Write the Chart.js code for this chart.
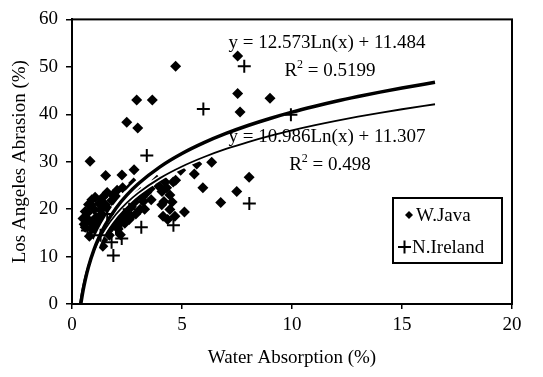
<!DOCTYPE html>
<html>
<head>
<meta charset="utf-8">
<script src="https://cdn.jsdelivr.net/npm/chart.js@4"></script>
<style>
  body { margin: 0; background: #fff; }
  #wrap { width: 543px; height: 377px; }
</style>
</head>
<body>
<div id="wrap"><canvas id="absorptionChart" width="543" height="377"></canvas></div>
<script>
// --- Data ---
const seriesNames = ['W.Java', 'N.Ireland'];

// W.Java samples: water absorption (%) and LA abrasion (%)
const javaAbsorption = [
  0.82, 1.53, 2.27, 2.82, 4.71, 2.94, 3.65, 2.49, 2.99, 7.53, 7.53, 7.64, 9.0,
  8.05, 7.49, 6.76, 5.95, 5.56, 5.67, 6.35, 5.11, 4.71, 4.94, 4.14, 4.08, 4.6,
  3.24, 3.55, 1.24, 2.0, 2.6, 0.79, 0.64,
  3.86, 4.23, 4.09, 4.45, 4.18, 4.45, 4.68,
  1.6, 2.3, 2.8, 3.0, 0.9, 1.4, 1.8, 2.5, 3.0,
  0.6, 1.0, 1.3, 1.6, 2.0, 2.3, 2.7, 3.1,
  0.5, 0.8, 1.1, 1.4, 1.7, 2.0, 2.3, 2.6,
  0.6, 0.9, 1.2, 1.5, 1.8, 2.1, 1.1, 1.4, 1.7, 1.4,
  0.55, 0.7, 0.85, 1.0, 1.15, 1.25, 1.35, 1.5, 1.55, 1.65, 1.75, 1.9, 1.95, 2.1,
  2.15, 2.2, 2.4, 2.45, 2.55, 2.7, 2.85, 2.9, 1.05, 0.75, 1.85, 2.05, 3.2, 3.3,
  3.4, 3.6, 3.95, 4.3, 4.55, 4.35
];
const javaAbrasion = [
  30.1, 27.1, 27.2, 28.3, 50.1, 43.0, 43.0, 38.3, 37.1, 52.3, 44.4, 40.5, 43.4,
  26.7, 23.7, 21.4, 24.5, 27.4, 29.5, 29.9, 19.4, 26.1, 28.2, 18.5, 20.9, 25.7,
  21.6, 24.3, 21.2, 22.6, 24.3, 14.3, 18.1,
  26.1, 25.7, 23.7, 23.0, 21.6, 19.9, 18.5,
  23.5, 24.5, 25.5, 24.0, 22.0, 22.5, 21.8, 22.0, 22.8,
  19.5, 20.0, 19.8, 20.3, 20.0, 19.5, 20.5, 20.0,
  18.0, 17.5, 18.3, 17.8, 18.5, 17.5, 18.2, 17.8,
  16.2, 15.8, 16.5, 15.5, 16.3, 15.8, 14.2, 13.5, 14.5, 12.2,
  16.8, 19.2, 20.8, 16.8, 15.2, 17.2, 19.0, 21.0, 17.0, 15.5, 19.5, 18.0, 21.5, 19.0,
  16.8, 14.6, 17.0, 20.8, 19.0, 18.5, 21.5, 19.0, 22.5, 21.0, 23.0, 24.0, 22.5, 20.0,
  23.5, 22.0, 24.8, 24.5, 21.5, 17.8
];

// N.Ireland samples
const irelandAbsorption = [
  7.83, 5.97, 3.4, 9.95, 8.06, 4.61, 1.88, 3.15, 2.26,
  0.9, 1.3, 1.6, 2.0, 1.2, 2.6, 0.7, 1.8
];
const irelandAbrasion = [
  50.1, 41.1, 31.3, 39.9, 21.2, 16.6, 10.2, 16.2, 13.8,
  17.0, 14.5, 19.0, 16.0, 21.0, 20.0, 15.5, 13.0
];

// Logarithmic trend lines as they run across the plot
const trendAbsorption = [0.36, 0.4, 0.45, 0.5, 0.6, 0.75, 1, 1.25, 1.5, 2, 2.5, 3, 4, 5, 6, 7, 8, 9, 10, 11, 12, 13, 14, 15, 16.5];
const javaTrend = [null, 0, 1.44, 2.77, 5.06, 7.87, 11.48, 14.29, 16.58, 20.2, 23.0, 25.3, 28.91, 31.72, 34.01, 35.95, 37.63, 39.11, 40.44, 41.63, 42.73, 43.73, 44.67, 45.53, 46.73];
const irelandTrend = [0, 1.24, 2.53, 3.69, 5.7, 8.15, 11.31, 13.76, 15.76, 18.92, 21.37, 23.38, 26.54, 28.99, 30.99, 32.69, 34.15, 35.45, 36.6, 37.65, 38.61, 39.49, 40.3, 41.06, 42.11];

const trendLabels = [
  ['y = 12.573Ln(x) + 11.484', '0.5199'],
  ['y = 10.986Ln(x) + 11.307', '0.498']
];

const xTicks = [0, 5, 10, 15, 20];
const yTicks = [0, 10, 20, 30, 40, 50, 60];

const pairs = (xs, ys) => xs.map((x, i) => ({ x: x, y: ys[i] }));
const serif = 'Liberation Serif, Times New Roman, serif';

// --- Frame, trend equations and legend box ---
const decorations = {
  id: 'decorations',
  afterDraw(chart) {
    const { ctx, chartArea: a } = chart;
    ctx.save();
    ctx.strokeStyle = '#000';
    ctx.lineWidth = 2;
    ctx.strokeRect(a.left, a.top, a.right - a.left, a.bottom - a.top);

    // trend line equations (centred, Excel style)
    ctx.fillStyle = '#000';
    ctx.textBaseline = 'middle';
    const rows = [[43, 71], [137, 165]];
    trendLabels.forEach((lab, i) => {
      const cx = 327;
      ctx.font = '19px ' + serif;
      ctx.textAlign = 'center';
      ctx.fillText(lab[0], cx, rows[i][0]);
      const rest = ' = ' + lab[1];
      const wR = ctx.measureText('R').width;
      const wRest = ctx.measureText(rest).width;
      ctx.font = '12px ' + serif;
      const wSup = ctx.measureText('2').width;
      let x0 = cx + 3 - (wR + wSup + wRest) / 2;
      ctx.textAlign = 'left';
      ctx.font = '19px ' + serif;
      ctx.fillText('R', x0, rows[i][1]);
      ctx.font = '12px ' + serif;
      ctx.fillText('2', x0 + wR, rows[i][1] - 6);
      ctx.font = '19px ' + serif;
      ctx.fillText(rest, x0 + wR + wSup, rows[i][1]);
    });

    // legend
    ctx.lineWidth = 2;
    ctx.strokeRect(393, 198, 109, 65);
    ctx.beginPath();
    ctx.moveTo(409, 211); ctx.lineTo(413, 215); ctx.lineTo(409, 219); ctx.lineTo(405, 215);
    ctx.closePath();
    ctx.fill();
    ctx.beginPath();
    ctx.moveTo(398, 247); ctx.lineTo(411, 247);
    ctx.moveTo(404.5, 240.5); ctx.lineTo(404.5, 253.5);
    ctx.stroke();
    ctx.font = '19px ' + serif;
    ctx.textAlign = 'left';
    ctx.fillText(chart.data.datasets[0].label, 416, 216);
    ctx.fillText(chart.data.datasets[1].label, 412, 248);
    ctx.restore();
  }
};

const ctx = document.getElementById('absorptionChart').getContext('2d');
new Chart(ctx, {
  type: 'scatter',
  data: {
    datasets: [
      {
        label: seriesNames[0],
        data: pairs(javaAbsorption, javaAbrasion),
        pointStyle: 'rectRot',
        pointRadius: 5.5,
        backgroundColor: '#000',
        borderColor: '#000',
        borderWidth: 0,
        order: 5
      },
      {
        label: seriesNames[1],
        data: pairs(irelandAbsorption, irelandAbrasion),
        pointStyle: 'cross',
        pointRadius: 6.5,
        borderColor: '#000',
        borderWidth: 2,
        order: 2.5
      },
      {
        label: 'halo java',
        type: 'line',
        data: pairs(trendAbsorption, javaTrend),
        borderColor: '#fff',
        borderWidth: 8,
        pointRadius: 0,
        cubicInterpolationMode: 'monotone',
        spanGaps: true,
        order: 3
      },
      {
        label: 'halo ireland',
        type: 'line',
        data: pairs(trendAbsorption, irelandTrend),
        borderColor: '#fff',
        borderWidth: 5,
        pointRadius: 0,
        cubicInterpolationMode: 'monotone',
        order: 3
      },
      {
        label: 'trend java',
        type: 'line',
        data: pairs(trendAbsorption, javaTrend),
        borderColor: '#000',
        borderWidth: 3.5,
        pointRadius: 0,
        cubicInterpolationMode: 'monotone',
        spanGaps: true,
        order: 1
      },
      {
        label: 'trend ireland',
        type: 'line',
        data: pairs(trendAbsorption, irelandTrend),
        borderColor: '#000',
        borderWidth: 1.8,
        pointRadius: 0,
        cubicInterpolationMode: 'monotone',
        order: 2
      }
    ]
  },
  options: {
    responsive: false,
    animation: false,
    layout: { padding: { top: 15, right: 31, left: 0, bottom: 0 } },
    plugins: {
      legend: { display: false },
      tooltip: { enabled: false }
    },
    scales: {
      x: {
        type: 'linear',
        min: 0,
        max: 20,
        afterFit(scale) { scale.height = 73; },
        afterBuildTicks(scale) { scale.ticks = xTicks.map(v => ({ value: v })); },
        ticks: { color: '#000', padding: 5, font: { family: serif, size: 19 } },
        grid: { drawOnChartArea: false, drawTicks: true, tickLength: 5, color: '#000', lineWidth: 1.5 },
        border: { display: true, color: '#000', width: 2 },
        title: {
          display: true,
          text: 'Water Absorption (%)',
          color: '#000',
          font: { family: serif, size: 19 },
          padding: { top: 0, bottom: 8 }
        }
      },
      y: {
        min: 0,
        max: 60,
        afterFit(scale) { scale.width = 72; },
        afterBuildTicks(scale) { scale.ticks = yTicks.map(v => ({ value: v })); },
        ticks: { color: '#000', padding: 8, font: { family: serif, size: 19 } },
        grid: { drawOnChartArea: false, drawTicks: true, tickLength: 6, color: '#000', lineWidth: 1.5 },
        border: { display: true, color: '#000', width: 2 },
        title: {
          display: true,
          text: 'Los Angeles Abrasion (%)',
          color: '#000',
          font: { family: serif, size: 19 },
          padding: { top: 9, bottom: 0 }
        }
      }
    }
  },
  plugins: [decorations]
});
</script>
</body>
</html>
